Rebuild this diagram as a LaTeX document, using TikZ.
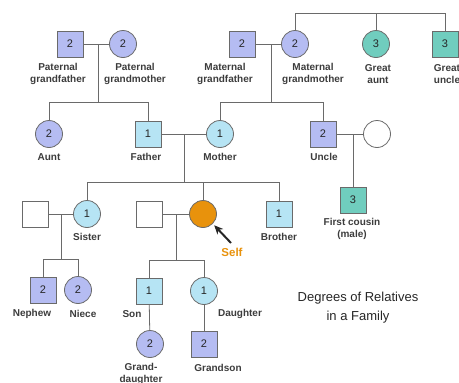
\documentclass[tikz,border=0pt]{standalone}
\usepackage{fontspec}
\setmainfont{Liberation Sans}
\usetikzlibrary{arrows.meta}
\definecolor{degone}{HTML}{B6E4F4}
\definecolor{degtwo}{HTML}{B5BCF2}
\definecolor{degthree}{HTML}{70CDBE}
\definecolor{selfcol}{HTML}{E8920C}
\definecolor{edgecol}{HTML}{6A6A6A}
\definecolor{txtcol}{HTML}{3C3C3C}
\begin{document}
\begin{tikzpicture}[x=1pt, y=-1pt,
    male/.style={draw=edgecol, line width=0.8pt, shape=rectangle, minimum size=26pt, inner sep=0pt, font=\fontsize{11}{12}\selectfont, text=black!85},
    female/.style={draw=edgecol, line width=0.8pt, shape=circle, minimum size=27pt, inner sep=0pt, font=\fontsize{11}{12}\selectfont, text=black!85},
    lbl/.style={align=center, text=txtcol, font=\fontsize{10}{12}\selectfont\bfseries},
    link/.style={draw=edgecol, line width=0.8pt}]
            \useasboundingbox (0,0) rectangle (459,383);

            % grandparents
            \node[male, fill=degtwo] (PGF) at (70,44) {2};
            \node[female, fill=degtwo] (PGM) at (123,44) {2};
            \node[male, fill=degtwo] (MGF) at (242,44) {2};
            \node[female, fill=degtwo] (MGM) at (295,44) {2};
            \node[female, fill=degthree] (GA) at (376,44) {3};
            \node[male, fill=degthree] (GU) at (445,44) {3};

            \node[lbl] (PGFl) at (58,74) {Paternal\\grandfather};
            \node[lbl] (PGMl) at (135,74) {Paternal\\grandmother};
            \node[lbl] (MGFl) at (225,74) {Maternal\\grandfather};
            \node[lbl] (MGMl) at (313,74) {Maternal\\grandmother};
            \node[lbl] (GAl) at (378,74) {Great\\aunt};
            \node[lbl] (GUl) at (447,74) {Great\\uncle};

            \coordinate (GGtop) at (295,13);
            \coordinate (GAtop) at (376,13);
            \coordinate (GUtop) at (445,13);
            \draw[link] (MGM) -- (GGtop) -- (GUtop) -- (GU);
            \draw[link] (GAtop) -- (GA);

            \coordinate (PJ) at (98,44);
            \coordinate (PJd) at (98,102);
            \coordinate (MJ) at (271,44);
            \coordinate (MJd) at (271,102);
            \draw[link] (PGF) -- (PGM);
            \draw[link] (MGF) -- (MGM);
            \draw[link] (PJ) -- (PJd);
            \draw[link] (MJ) -- (MJd);

            % parents, aunt, uncle
            \node[female, fill=degtwo] (AU) at (49,134) {2};
            \node[male, fill=degone] (FA) at (148,134) {1};
            \node[female, fill=degone] (MO) at (220,134) {1};
            \node[male, fill=degtwo] (UN) at (323,134) {2};
            \node[female, fill=white] (UW) at (377,134) {};

            \node[lbl] (AUl) at (49,157) {Aunt};
            \node[lbl] (FAl) at (146,157) {Father};
            \node[lbl] (MOl) at (220,157) {Mother};
            \node[lbl] (UNl) at (324,157) {Uncle};

            \draw[link] (AU) -- (AU |- PJd) -- (FA |- PJd) -- (FA);
            \draw[link] (MO) -- (MO |- MJd) -- (UN |- MJd) -- (UN);
            \draw[link] (FA) -- (MO);
            \draw[link] (UN) -- (UW);

            \node[male, fill=degthree] (FC) at (353,200) {3};
            \node[lbl] (FCl) at (352,229) {First cousin\\(male)};
            \coordinate (UJ) at (353,134);
            \draw[link] (UJ) -- (FC);

            % self and siblings
            \node[male, fill=white] (SH) at (35,214) {};
            \node[female, fill=degone] (SI) at (87,214) {1};
            \node[male, fill=white] (HU) at (149,214) {};
            \node[female, fill=selfcol] (SE) at (203,214) {};
            \node[male, fill=degone] (BR) at (279,214) {1};

            \node[lbl] (SIl) at (87,237) {Sister};
            \node[lbl] (BRl) at (279,237) {Brother};
            \node[lbl, text=selfcol, font=\fontsize{11.5}{13}\selectfont\bfseries] (SEl) at (232,252) {Self};

            \coordinate (FJ) at (184,134);
            \coordinate (FJd) at (184,182);
            \draw[link] (FJ) -- (FJd);
            \draw[link] (SI) -- (SI |- FJd) -- (BR |- FJd) -- (BR);
            \draw[link] (SE |- FJd) -- (SE);
            \draw[link] (SH) -- (SI);
            \draw[link] (HU) -- (SE);

            \coordinate (ARtail) at (231,243);
            \draw[-{Stealth[length=9pt, width=8pt]}, line width=2pt, black!85, shorten >=2pt] (ARtail) -- (SE.-45);

            % next generation
            \node[male, fill=degtwo] (NE) at (43,290) {2};
            \node[female, fill=degtwo] (NI) at (78,290) {2};
            \node[male, fill=degone] (SO) at (149,291) {1};
            \node[female, fill=degone] (DA) at (204,291) {1};

            \node[lbl] (NEl) at (32,314) {Nephew};
            \node[lbl] (NIl) at (83,314) {Niece};
            \node[lbl] (SOl) at (132,314) {Son};
            \node[lbl] (DAl) at (240,314) {Daughter};

            \coordinate (SJ) at (61,214);
            \coordinate (SJd) at (61,259);
            \coordinate (HJ) at (176,214);
            \coordinate (HJd) at (176,260);
            \draw[link] (SJ) -- (SJd);
            \draw[link] (NE) -- (NE |- SJd) -- (NI |- SJd) -- (NI);
            \draw[link] (HJ) -- (HJd);
            \draw[link] (SO) -- (SO |- HJd) -- (DA |- HJd) -- (DA);

            \node[female, fill=degtwo] (GD) at (150,344) {2};
            \node[male, fill=degtwo] (GS) at (204,344) {2};
            \draw[link] (SO) -- (GD);
            \draw[link] (DA) -- (GS);

            \node[lbl] (GDl) at (141,374) {Grand-\\daughter};
            \node[lbl] (GSl) at (218,368) {Grandson};

            \node[align=center, text=black!85, font=\fontsize{13}{19}\selectfont] (title) at (358,308) {Degrees of Relatives\\in a Family};
\end{tikzpicture}
\end{document}
